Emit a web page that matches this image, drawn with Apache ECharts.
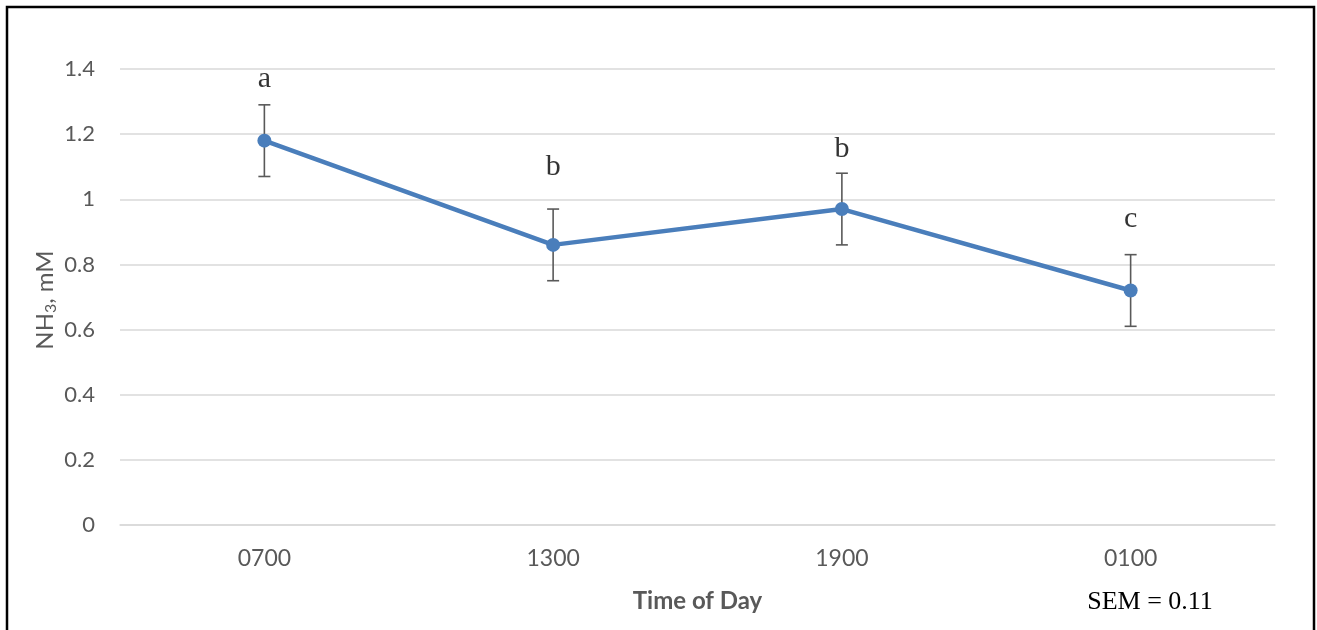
<!DOCTYPE html>
<html>
<head>
<meta charset="utf-8">
<script src="https://cdn.jsdelivr.net/npm/echarts@6/dist/echarts.min.js"></script>
<style>
  html, body { margin: 0; padding: 0; background: #fff; }
  #chart { width: 1317px; height: 630px; }
</style>
</head>
<body>
<div id="chart"></div>
<script>
// Rumen NH3 concentration by sampling time
const timesOfDay = ['0700', '1300', '1900', '0100'];
const nh3Means = [1.18, 0.86, 0.97, 0.72];
const sem = [0.11, 0.11, 0.11, 0.11];
// Significance letters and the level (mM) each one is written at
const sigLetters = ['a', 'b', 'b', 'c'];
const letterLevels = [1.37, 1.1, 1.155, 0.94];
const yTicks = { min: 0, max: 1.4, step: 0.2 };

const labelFont = 'Lato, "Open Sans", sans-serif';
const serifFont = '"Liberation Serif", "Times New Roman", serif';
const grey = '#595959';
const blue = '#4a7ebb';

const chart = echarts.init(document.getElementById('chart'), null, { renderer: 'canvas' });

const errorData = nh3Means.map((m, i) => [i, m - sem[i], m + sem[i]]);
const letterData = letterLevels.map((v, i) => [i, v, sigLetters[i]]);

chart.setOption({
  backgroundColor: '#ffffff',
  animation: false,
  grid: { left: 120, right: 42, top: 69, bottom: 105, containLabel: false },
  xAxis: {
    type: 'category',
    data: timesOfDay,
    boundaryGap: true,
    axisLine: { show: true, lineStyle: { color: '#d9d9d9', width: 1.5 } },
    axisTick: { show: false },
    axisLabel: { color: grey, fontFamily: labelFont, fontSize: 23, margin: 22 },
    name: 'Time of Day',
    nameLocation: 'middle',
    nameGap: 64,
    nameTextStyle: { color: grey, fontFamily: labelFont, fontSize: 24, fontWeight: 'bold' }
  },
  yAxis: {
    type: 'value',
    min: yTicks.min,
    max: yTicks.max,
    interval: yTicks.step,
    axisLine: { show: false },
    axisTick: { show: false },
    splitLine: { lineStyle: { color: '#d9d9d9', width: 1.5 } },
    axisLabel: { color: grey, fontFamily: labelFont, fontSize: 22, margin: 25 }
  },
  graphic: [
    {
      type: 'rect',
      shape: { x: 7, y: 7, width: 1307, height: 640 },
      style: { fill: 'none', stroke: '#000', lineWidth: 2.5 },
      silent: true
    },
    {
      type: 'text',
      x: 45,
      y: 300,
      rotation: Math.PI / 2,
      style: {
        text: '{m|NH}{s|3}{m|, mM}',
        align: 'center',
        verticalAlign: 'middle',
        rich: {
          m: { fontFamily: labelFont, fontSize: 24, fill: grey, lineHeight: 28 },
          s: { fontFamily: labelFont, fontSize: 16, fill: grey, lineHeight: 28, padding: [12, 0, 0, 0] }
        }
      }
    },
    {
      type: 'text',
      x: 1150,
      y: 602,
      style: {
        text: 'SEM = 0.11',
        align: 'center',
        verticalAlign: 'middle',
        fontFamily: serifFont,
        fontSize: 26,
        fill: '#000'
      }
    }
  ],
  series: [
    {
      type: 'custom',
      name: 'SEM',
      z: 1,
      data: errorData,
      renderItem: function (params, api) {
        const x = api.value(0);
        const lo = api.coord([x, api.value(1)]);
        const hi = api.coord([x, api.value(2)]);
        const cap = 6;
        const style = { stroke: grey, lineWidth: 1.6 };
        return {
          type: 'group',
          children: [
            { type: 'line', shape: { x1: lo[0], y1: lo[1], x2: hi[0], y2: hi[1] }, style },
            { type: 'line', shape: { x1: hi[0] - cap, y1: hi[1], x2: hi[0] + cap, y2: hi[1] }, style },
            { type: 'line', shape: { x1: lo[0] - cap, y1: lo[1], x2: lo[0] + cap, y2: lo[1] }, style }
          ]
        };
      }
    },
    {
      type: 'line',
      name: 'NH3',
      z: 3,
      data: nh3Means,
      symbol: 'circle',
      symbolSize: 14,
      itemStyle: { color: blue },
      lineStyle: { color: blue, width: 4.5 }
    },
    {
      type: 'scatter',
      name: 'letters',
      z: 4,
      data: letterData,
      symbolSize: 0,
      label: {
        show: true,
        position: 'inside',
        formatter: p => p.value[2],
        fontFamily: serifFont,
        fontSize: 30,
        color: '#000'
      }
    }
  ]
});
</script>
</body>
</html>
